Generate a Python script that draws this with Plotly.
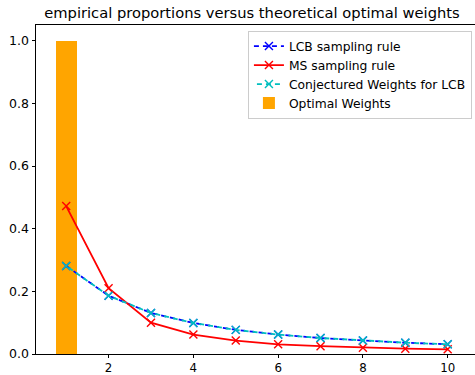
import plotly.graph_objects as go

arms = [1, 2, 3, 4, 5, 6, 7, 8, 9, 10]
lcb = [0.281, 0.186, 0.131, 0.099, 0.077, 0.062, 0.051, 0.043, 0.036, 0.031]
ms = [0.472, 0.210, 0.100, 0.062, 0.043, 0.031, 0.025, 0.020, 0.017, 0.015]
conj = [0.281, 0.186, 0.131, 0.099, 0.077, 0.062, 0.051, 0.043, 0.036, 0.031]
optimal = [1.0, 0, 0, 0, 0, 0, 0, 0, 0, 0]
y_ticks = [0.0, 0.2, 0.4, 0.6, 0.8, 1.0]
x_ticks = [2, 4, 6, 8, 10]

FONT = "DejaVu Sans"

fig = go.Figure()
fig.add_trace(go.Scatter(
    x=arms, y=lcb, name="LCB sampling rule", mode="lines+markers",
    line=dict(color="#0000ff", width=1.8, dash="5px,4px"),
    marker=dict(symbol="x-thin", size=8, line=dict(color="#0000ff", width=1.4)),
))
fig.add_trace(go.Scatter(
    x=arms, y=ms, name="MS sampling rule", mode="lines+markers",
    line=dict(color="#ff0000", width=1.8),
    marker=dict(symbol="x-thin", size=8, line=dict(color="#ff0000", width=1.4)),
))
fig.add_trace(go.Scatter(
    x=arms, y=conj, name="Conjectured Weights for LCB", mode="lines+markers",
    line=dict(color="#00bfbf", width=1.8, dash="0px,3px,5px,1px"),
    marker=dict(symbol="x-thin", size=8, line=dict(color="#00bfbf", width=1.4)),
))
fig.add_trace(go.Bar(
    x=arms, y=optimal, name="Optimal Weights", width=0.5,
    marker=dict(color="#ffa500", line=dict(width=0)),
))

fig.update_layout(
    width=475, height=375,
    margin=dict(l=36, r=0, t=25, b=21, autoexpand=False),
    paper_bgcolor="white", plot_bgcolor="white",
    font=dict(family=FONT, size=12.5, color="black"),
    title=dict(text="empirical proportions versus theoretical optimal weights",
               x=0.492, xref="paper", xanchor="center",
               y=1 - 13 / 375, yref="container", yanchor="middle",
               font=dict(family=FONT, size=14.7, color="black")),
    showlegend=True,
    legend=dict(x=0.993, xanchor="right", y=0.983, yanchor="top",
                bgcolor="rgba(255,255,255,0.8)", bordercolor="#cccccc", borderwidth=1,
                font=dict(family=FONT, size=12.3, color="black"),
                traceorder="normal", tracegroupgap=0, itemwidth=30),
    bargap=0,
)
fig.update_xaxes(range=[0.2875, 10.644], tickvals=x_ticks, ticktext=[str(v) for v in x_ticks],
                 automargin=False, tickfont=dict(size=11.8),
                 showgrid=False, zeroline=False, showline=True, linecolor="black", linewidth=1,
                 mirror=True, ticks="outside", ticklen=3, tickwidth=0.8, tickcolor="black")
fig.update_yaxes(range=[0, 1.05], tickvals=y_ticks, ticktext=[f"{v:.1f}" for v in y_ticks],
                 automargin=False,
                 showgrid=False, zeroline=False, showline=True, linecolor="black", linewidth=1,
                 mirror=False, ticks="outside", ticklen=3.5, tickwidth=0.8, tickcolor="black")

fig.write_html("out.html", config={"displayModeBar": False},
               post_script="document.body.style.margin='0';document.body.style.overflow='hidden';")
